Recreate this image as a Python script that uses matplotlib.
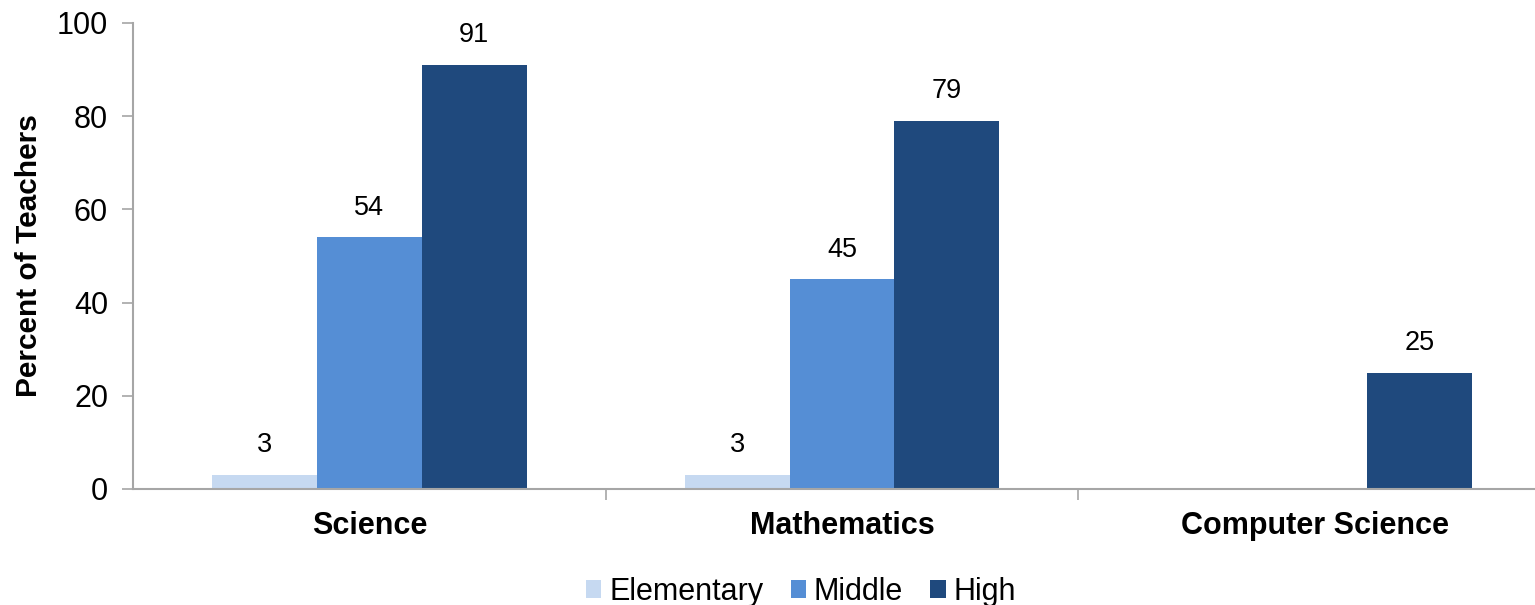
import numpy as np
import matplotlib.pyplot as plt

plt.rcParams['font.family'] = ['Liberation Sans', 'DejaVu Sans']

categories = ["Science", "Mathematics", "Computer Science"]
levels = ["Elementary", "Middle", "High"]
elementary = [3, 3, 0]
middle = [54, 45, 0]
high = [91, 79, 25]
colors = ["#C6D9F1", "#558ED5", "#1F497D"]
grey = "#A6A6A6"

fig = plt.figure(figsize=(15.35, 6.05), dpi=100)
ax = fig.add_axes([133/1535, 116/605, 1 - 133/1535, 466/605])

x = np.arange(len(categories))
w = 0.222
series = [elementary, middle, high]
for i, (vals, c, lab) in enumerate(zip(series, colors, levels)):
    pos = x + (i - 1) * w
    ax.bar(pos, vals, width=w, color=c, label=lab, zorder=2)
    for px, v in zip(pos, vals):
        if v > 0:
            ax.annotate(f"{v}", (px, v), xytext=(0, 12), textcoords="offset points",
                        ha="center", va="bottom", fontsize=19.5)

ax.set_xlim(-0.5, 2.5 - 16/473)
ax.set_ylim(0, 100)
ax.set_yticks(np.arange(0, 101, 20))
ax.tick_params(axis='y', labelsize=22, length=8, color=grey, width=1.2, pad=10)
ax.set_xticks(x)
ax.set_xticklabels(categories, fontsize=22, fontweight='bold')
ax.tick_params(axis='x', length=0, pad=16)
ax.set_xticks([0.5, 1.5], minor=True)
ax.tick_params(axis='x', which='minor', length=8, color=grey, width=1.2)
ax.set_ylabel("Percent of Teachers", fontsize=21.5, fontweight='bold', labelpad=10)

for s in ['top', 'right']:
    ax.spines[s].set_visible(False)
for s in ['left', 'bottom']:
    ax.spines[s].set_color(grey)
    ax.spines[s].set_linewidth(1.5)

fig.legend(loc='center', bbox_to_anchor=(801/1535, 1 - 592/605), ncol=3, frameon=False,
           fontsize=22, handlelength=0.5, handleheight=0.5, handletextpad=0.25,
           columnspacing=0.9)

fig.savefig("out.png", dpi=100)
